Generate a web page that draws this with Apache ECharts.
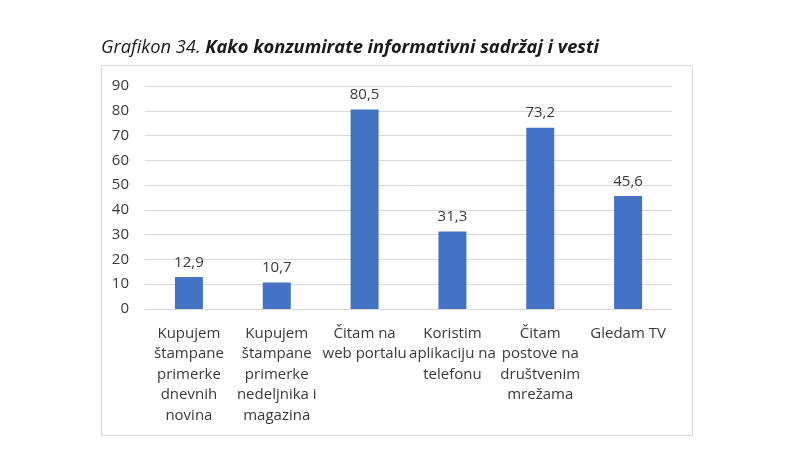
<!DOCTYPE html>
<html><head><meta charset="utf-8">
<script src="https://cdn.jsdelivr.net/npm/echarts@6/dist/echarts.min.js"></script>
<style>html,body{margin:0;padding:0;background:#fff}#c{width:800px;height:450px}</style>
</head><body><div id="c"></div>
<script>
const categories = [
  "Kupujem\nštampane\nprimerke\ndnevnih\nnovina",
  "Kupujem\nštampane\nprimerke\nnedeljnika i\nmagazina",
  "Čitam na\nweb portalu",
  "Koristim\naplikaciju na\ntelefonu",
  "Čitam\npostove na\ndruštvenim\nmrežama",
  "Gledam TV"
];
const values = [12.9, 10.7, 80.5, 31.3, 73.2, 45.6];
const titlePrefix = "Grafikon 34.";
const titleMain = "Kako konzumirate informativni sadržaj i vesti";

const font = "'Open Sans', 'Noto Sans', sans-serif";
const chart = echarts.init(document.getElementById('c'), null, {renderer:'canvas'});
chart.setOption({
  animation:false,
  backgroundColor:'#fff',
  title:{
    text:'{a|'+titlePrefix+' }{b|'+titleMain+'}',
    left:96, top:34,
    textStyle:{fontWeight:'normal',rich:{
      a:{fontFamily:font,fontStyle:'italic',fontWeight:'normal',fontSize:18.3,color:'#1a1a1a'},
      b:{fontFamily:font,fontStyle:'italic',fontWeight:'bold',fontSize:18.3,color:'#1a1a1a'}
    }}
  },
  graphic:[{type:'rect',shape:{x:101.5,y:65.5,width:591,height:370},style:{fill:'none',stroke:'#d9d9d9',lineWidth:1},z:-1}],
  grid:{left:145,right:128,top:86,bottom:141},
  xAxis:{type:'category',data:categories,
    axisLine:{lineStyle:{color:'#d9d9d9',width:1}},
    axisTick:{show:false},
    axisLabel:{interval:0,margin:14,color:'#3a3a3a',fontFamily:font,fontSize:15,lineHeight:20.5}
  },
  yAxis:{type:'value',min:0,max:90,interval:10,
    axisLine:{show:false},axisTick:{show:false},
    splitLine:{lineStyle:{color:'#d9d9d9',width:1}},
    axisLabel:{margin:16,color:'#3a3a3a',fontFamily:font,fontSize:15}
  },
  series:[{type:'bar',data:values,barWidth:28,
    itemStyle:{color:'#4472C4'},
    label:{show:true,position:'top',distance:7,color:'#3a3a3a',fontFamily:font,fontSize:15,
      formatter:p=>String(p.value).replace('.',',')}
  }]
});
</script></body></html>
